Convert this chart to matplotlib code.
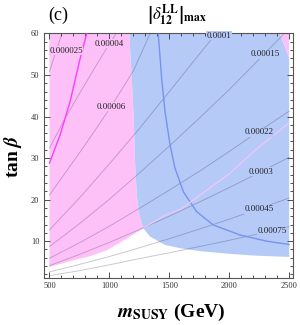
import numpy as np
import matplotlib
matplotlib.use("Agg")
import matplotlib.pyplot as plt
from matplotlib.ticker import MultipleLocator

plt.rcParams['font.family'] = 'serif'
plt.rcParams['font.serif'] = ['Liberation Serif', 'DejaVu Serif']
plt.rcParams['mathtext.fontset'] = 'stix'

PINK = '#fdc1f8'
BLUE = '#b6caf8'

# shaded regions (m_SUSY in GeV, tan beta)
blue_edge_m = [1167, 1178, 1194, 1206, 1214, 1228, 1250, 1283]
blue_edge_t = [60, 53.3, 45.2, 37.2, 29.2, 21.1, 16.3, 13.1]
blue_bottom_m = [1283, 1339, 1464, 1589, 1756, 1978, 2228, 2500]
blue_bottom_t = [13.1, 11.1, 9.1, 8.3, 7.6, 7.0, 6.5, 6.2]
pink_bottom_m = [500, 700, 839, 978, 1144, 1256, 1283]
pink_bottom_t = [3.8, 5.4, 6.4, 7.8, 10.6, 12.6, 13.1]
corner_m = [2500, 2464, 2422]
corner_t = [54.1, 56.9, 60]

# contour lines of |delta_12^LL|max
c25_m = [500, 550, 610]
c25_t = [50.8, 55.3, 60.5]
c40_m = [500, 625, 750, 875, 1000, 1080]
c40_t = [32.4, 39.3, 45.5, 51.6, 57.5, 61]
c60_m = [500, 650, 800, 1014, 1200, 1345]
c60_t = [21.1, 27.2, 33.3, 42.4, 51, 60.3]
c100_m = [500, 750, 1000, 1250, 1500, 1750, 1900]
c100_t = [12.7, 20.4, 28.6, 37.1, 46, 55, 60.3]
c150_m = [500, 750, 1000, 1250, 1500, 1750, 2000, 2250, 2500]
c150_t = [8.7, 14.2, 20.1, 26.4, 32.9, 39.6, 46.5, 53.8, 61.2]
c220_m = [500, 750, 1000, 1250, 1500, 1750, 2000, 2250, 2500]
c220_t = [5.9, 9.6, 13.6, 17.9, 22.3, 26.8, 31.6, 36.5, 41.3]
c300_m = [500, 750, 1000, 1250, 1500, 1750, 2000, 2250, 2500]
c300_t = [4.1, 6.8, 9.7, 12.8, 16.0, 19.4, 22.9, 26.5, 30.2]
c450_m = [500, 750, 1000, 1250, 1500, 1750, 2000, 2250, 2500]
c450_t = [2.6, 4.4, 6.3, 8.4, 10.6, 12.9, 15.3, 17.8, 20.4]
c750_m = [500, 750, 1000, 1250, 1500, 1750, 2000, 2250, 2500]
c750_t = [1.7, 2.9, 4.3, 5.8, 7.2, 8.7, 10.2, 11.8, 13.5]

label_text = ['0.000025', '0.00004', '0.00006', '0.0001', '0.00015',
              '0.00022', '0.0003', '0.00045', '0.00075']
label_m = [639, 997, 1014, 1914, 2303, 2247, 2269, 2247, 2356]
label_t = [55.9, 57.5, 42.4, 59.5, 55.0, 36.2, 26.7, 17.7, 12.4]
label_bg = [PINK, PINK, PINK, BLUE, BLUE, BLUE, BLUE, BLUE, BLUE]

# extra boundary curves
mag_m = [811, 750, 672, 589, 500]
mag_t = [60, 53.3, 43.6, 35.6, 28.8]
bline_m = [1408, 1436, 1464, 1506, 1547, 1617, 1728, 1867, 2089, 2311, 2500]
bline_t = [59.8, 49.2, 41.2, 33.2, 27.6, 21.9, 17.1, 13.9, 11.5, 10.0, 9.2]
pline_m = [1290, 1450, 1600, 1800, 2000, 2200, 2350, 2500]
pline_t = [13.3, 16.0, 17.8, 22.0, 26.2, 31.5, 35.0, 38.5]

fig = plt.figure(figsize=(3, 3.25), dpi=100)
ax = fig.add_axes([0.145, 0.1455, 0.83, 0.7515])

pink_x = [500, 1167] + blue_edge_m + pink_bottom_m[::-1]
pink_y = [60, 60] + blue_edge_t + pink_bottom_t[::-1]
ax.fill(pink_x, pink_y, color=PINK, lw=0, zorder=1)

blue_x = blue_edge_m + blue_bottom_m + corner_m
blue_y = blue_edge_t + blue_bottom_t + corner_t
ax.fill(blue_x, blue_y, color=BLUE, lw=0, zorder=1)
ax.fill([2422] + corner_m[::-1] + [2500], [60] + corner_t[::-1] + [60],
        color=PINK, lw=0, zorder=1)

for mm, tt in [(c25_m, c25_t), (c40_m, c40_t), (c60_m, c60_t), (c100_m, c100_t),
               (c150_m, c150_t), (c220_m, c220_t), (c300_m, c300_t),
               (c450_m, c450_t), (c750_m, c750_t)]:
    ax.plot(mm, tt, color='#1a1a40', alpha=0.25, lw=0.65, zorder=2)

ax.plot(mag_m, mag_t, color='#ff3cff', lw=1.0, zorder=3)
ax.plot(bline_m, bline_t, color='#7693f0', lw=1.0, zorder=3)
ax.plot(pline_m, pline_t, color='#f2c6f6', lw=0.9, zorder=3)

for s, m, t, bg in zip(label_text, label_m, label_t, label_bg):
    ax.text(m, t, s, fontsize=6.5, color='#222222', ha='center', va='center', zorder=4,
            bbox=dict(boxstyle='square,pad=0.05', fc=bg, ec='none'))

ax.set_xlim(450, 2528)
ax.set_ylim(1.2, 60)
ax.set_xticks([500, 1000, 1500, 2000, 2500])
ax.set_yticks([10, 20, 30, 40, 50, 60])
ax.xaxis.set_minor_locator(MultipleLocator(100))
ax.yaxis.set_minor_locator(MultipleLocator(2))
ax.tick_params(which='both', direction='in', top=True, right=True,
               labelsize=6, colors='#333333', width=0.6)
ax.tick_params(which='major', length=4, pad=3)
ax.tick_params(which='minor', length=2)
for sp in ax.spines.values():
    sp.set_color('#555555')
    sp.set_linewidth(0.8)

fig.text(0.195, 0.953, '(c)', fontsize=13, ha='center', va='center')
fig.text(0.59, 0.953, r'$\left|\delta^{\mathbf{LL}}_{\mathbf{12}}\right|_{\mathbf{max}}$',
         fontsize=12, ha='center', va='center')
fig.text(0.57, 0.04, r'$\mathbfit{m}_{\mathbf{SUSY}}$ (GeV)', fontsize=14,
         fontweight='bold', ha='center', va='center')
fig.text(0.045, 0.52, r'tan $\mathbfit{\beta}$', fontsize=14, fontweight='bold',
         rotation=90, ha='center', va='center')

fig.savefig('out.png', dpi=100)
